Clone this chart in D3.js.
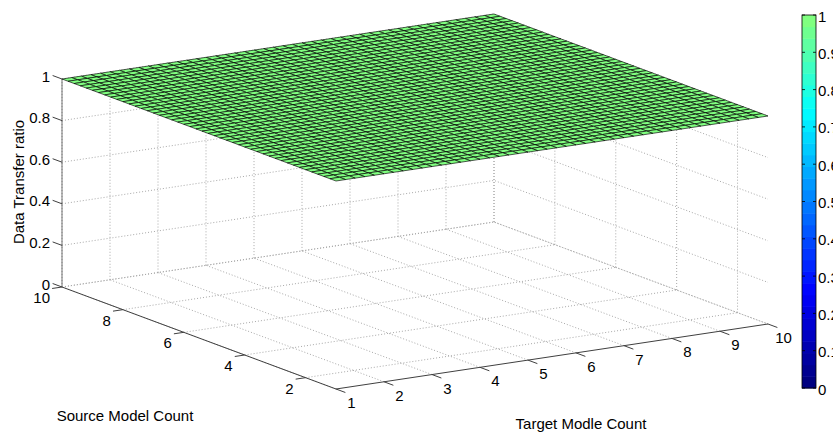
<!DOCTYPE html>
<html>
<head>
<meta charset="utf-8">
<script src="https://cdn.jsdelivr.net/npm/d3@7"></script>
<style>
  body { margin: 0; background: #fff; }
  svg { display: block; font-family: "Liberation Sans", Arial, sans-serif; }
</style>
</head>
<body>
<svg id="chart" width="833" height="432"></svg>
<script>
// ---- data ----
const targetCounts = [1, 2, 3, 4, 5, 6, 7, 8, 9, 10];
const sourceCounts = [1, 2, 3, 4, 5, 6, 7, 8, 9, 10];
// transferRatio[sourceIndex][targetIndex]
const transferRatio = [
  [1, 1, 1, 1, 1, 1, 1, 1, 1, 1],
  [1, 1, 1, 1, 1, 1, 1, 1, 1, 1],
  [1, 1, 1, 1, 1, 1, 1, 1, 1, 1],
  [1, 1, 1, 1, 1, 1, 1, 1, 1, 1],
  [1, 1, 1, 1, 1, 1, 1, 1, 1, 1],
  [1, 1, 1, 1, 1, 1, 1, 1, 1, 1],
  [1, 1, 1, 1, 1, 1, 1, 1, 1, 1],
  [1, 1, 1, 1, 1, 1, 1, 1, 1, 1],
  [1, 1, 1, 1, 1, 1, 1, 1, 1, 1],
  [1, 1, 1, 1, 1, 1, 1, 1, 1, 1]
];
const targetTicks = [1, 2, 3, 4, 5, 6, 7, 8, 9, 10];
const sourceTicks = [2, 4, 6, 8, 10];
const ratioTicks = [0, 0.2, 0.4, 0.6, 0.8, 1];
const ratioTickLabels = ["0", "0.2", "0.4", "0.6", "0.8", "1"];
const colorbarTicks = [0, 0.1, 0.2, 0.3, 0.4, 0.5, 0.6, 0.7, 0.8, 0.9, 1];
const colorbarTickLabels = ["0", "0.1", "0.2", "0.3", "0.4", "0.5", "0.6", "0.7", "0.8", "0.9", "1"];

// ---- layout ----
const svg = d3.select("#chart");
const FONT = 15;
const meshDivisions = 5;          // mesh lines drawn per data cell
const colorBands = 32;

// orthographic view: screen point of (target=1, source=1, ratio=0) and axis vectors
const ORIGIN = [336, 389];
const EX = [432, -65];   // full target range
const EY = [-274, -102]; // full source range
const EZ = [0, -208];    // full ratio range

const xs = d3.scaleLinear().domain(d3.extent(targetCounts)).range([0, 1]);
const ys = d3.scaleLinear().domain(d3.extent(sourceCounts)).range([0, 1]);
const zs = d3.scaleLinear().domain([0, 1]).range([0, 1]);

function proj(t, s, r) {
  const a = xs(t), b = ys(s), c = zs(r);
  return [ORIGIN[0] + a * EX[0] + b * EY[0] + c * EZ[0],
          ORIGIN[1] + a * EX[1] + b * EY[1] + c * EZ[1]];
}

// first half of the jet colormap
const cmap = d3.scaleLinear()
  .domain([0, 0.25, 0.75, 1])
  .range(["#000080", "#0000ff", "#00ffff", "#80ff80"])
  .clamp(true);

const line = d3.line();
const tMin = d3.min(targetCounts), tMax = d3.max(targetCounts);
const sMin = d3.min(sourceCounts), sMax = d3.max(sourceCounts);

// ---- grid (back walls and floor) ----
const grid = svg.append("g")
  .attr("fill", "none")
  .attr("stroke", "#a8a8a8")
  .attr("stroke-width", 1)
  .attr("stroke-dasharray", "1,2");

const gridSegs = [];
targetTicks.forEach(t => {
  gridSegs.push([proj(t, sMin, 0), proj(t, sMax, 0)]);   // floor
  gridSegs.push([proj(t, sMax, 0), proj(t, sMax, 1)]);   // wall source=max
});
sourceTicks.forEach(s => {
  gridSegs.push([proj(tMin, s, 0), proj(tMax, s, 0)]);   // floor
  gridSegs.push([proj(tMax, s, 0), proj(tMax, s, 1)]);   // wall target=max
});
ratioTicks.forEach(r => {
  gridSegs.push([proj(tMin, sMax, r), proj(tMax, sMax, r), proj(tMax, sMin, r)]);
});
grid.selectAll("path").data(gridSegs).join("path").attr("d", line);

// ---- axes ----
const axes = svg.append("g").attr("stroke", "#404040").attr("stroke-width", 1).attr("fill", "none");
axes.append("path").attr("d", line([proj(tMin, sMin, 0), proj(tMax, sMin, 0)]));
axes.append("path").attr("d", line([proj(tMin, sMin, 0), proj(tMin, sMax, 0)]));
axes.append("path").attr("stroke", "#707070").attr("d", line([proj(tMin, sMax, 0), proj(tMin, sMax, 1)]));

function unit(v) { const l = Math.hypot(v[0], v[1]); return [v[0] / l, v[1] / l]; }
const TICK = 10;
const dTarget = unit([-EY[0], -EY[1]]);
const dSource = unit([-EX[0], -EX[1]]);
const dRatio = unit(EY);

const labels = svg.append("g").attr("fill", "#000").attr("font-size", FONT);

targetTicks.forEach(t => {
  const p = proj(t, sMin, 0);
  axes.append("path").attr("d", line([p, [p[0] + dTarget[0] * TICK, p[1] + dTarget[1] * TICK]]));
  labels.append("text").attr("x", p[0] + 15.5).attr("y", p[1] + 13.5)
    .attr("text-anchor", "middle").attr("dominant-baseline", "central").text(t);
});
sourceTicks.forEach(s => {
  const p = proj(tMin, s, 0);
  axes.append("path").attr("d", line([p, [p[0] + dSource[0] * TICK, p[1] + dSource[1] * TICK]]));
  labels.append("text").attr("x", p[0] - 12).attr("y", p[1] + 10.5)
    .attr("text-anchor", "end").attr("dominant-baseline", "central").text(s);
});
ratioTicks.forEach((r, i) => {
  const p = proj(tMin, sMax, r);
  axes.append("path").attr("d", line([p, [p[0] + dRatio[0] * TICK, p[1] + dRatio[1] * TICK]]));
  labels.append("text").attr("x", p[0] - 12).attr("y", p[1] - 3)
    .attr("text-anchor", "end").attr("dominant-baseline", "central").text(ratioTickLabels[i]);
});

// axis titles
labels.append("text").attr("x", 125).attr("y", 415)
  .attr("text-anchor", "middle").attr("dominant-baseline", "central").text("Source Model Count");
labels.append("text").attr("x", 581).attr("y", 423)
  .attr("text-anchor", "middle").attr("dominant-baseline", "central").text("Target Modle Count");
labels.append("text").attr("transform", "translate(18,182) rotate(-90)")
  .attr("text-anchor", "middle").attr("dominant-baseline", "central").text("Data Transfer ratio");

// ---- surface ----
const cells = [];
for (let i = 0; i < sourceCounts.length - 1; i++) {
  for (let j = 0; j < targetCounts.length - 1; j++) {
    const t0 = targetCounts[j], t1 = targetCounts[j + 1];
    const s0 = sourceCounts[i], s1 = sourceCounts[i + 1];
    const z00 = transferRatio[i][j], z01 = transferRatio[i][j + 1];
    const z10 = transferRatio[i + 1][j], z11 = transferRatio[i + 1][j + 1];
    const zAt = (u, v) => z00 * (1 - u) * (1 - v) + z01 * u * (1 - v) + z10 * (1 - u) * v + z11 * u * v;
    for (let a = 0; a < meshDivisions; a++) {
      for (let b = 0; b < meshDivisions; b++) {
        const u0 = b / meshDivisions, u1 = (b + 1) / meshDivisions;
        const v0 = a / meshDivisions, v1 = (a + 1) / meshDivisions;
        const tA = t0 + (t1 - t0) * u0, tB = t0 + (t1 - t0) * u1;
        const sA = s0 + (s1 - s0) * v0, sB = s0 + (s1 - s0) * v1;
        const pts = [
          proj(tA, sA, zAt(u0, v0)), proj(tB, sA, zAt(u1, v0)),
          proj(tB, sB, zAt(u1, v1)), proj(tA, sB, zAt(u0, v1))
        ];
        const val = (zAt(u0, v0) + zAt(u1, v0) + zAt(u1, v1) + zAt(u0, v1)) / 4;
        cells.push({ pts, val, depth: tA + sA });
      }
    }
  }
}
// paint back to front
cells.sort((p, q) => q.depth - p.depth);
svg.append("g")
  .selectAll("path").data(cells).join("path")
  .attr("d", d => line(d.pts) + "Z")
  .attr("fill", d => cmap(d.val))
  .attr("stroke", "#000")
  .attr("stroke-opacity", 1)
  .attr("stroke-width", 0.65)
  .attr("stroke-linejoin", "round");

// ---- colorbar ----
const cbX = 802, cbW = 14, cbTop = 15, cbBottom = 388;
const cbScale = d3.scaleLinear().domain([0, 1]).range([cbBottom, cbTop]);
const cb = svg.append("g");
const bands = d3.range(colorBands);
cb.selectAll("rect.band").data(bands).join("rect")
  .attr("class", "band")
  .attr("x", cbX).attr("width", cbW)
  .attr("y", k => cbScale((k + 1) / colorBands))
  .attr("height", (cbBottom - cbTop) / colorBands + 0.5)
  .attr("fill", k => cmap(k / (colorBands - 1)));
cb.append("rect").attr("x", cbX).attr("y", cbTop).attr("width", cbW).attr("height", cbBottom - cbTop)
  .attr("fill", "none").attr("stroke", "#000").attr("stroke-width", 0.8);
colorbarTicks.forEach((v, i) => {
  const y = cbScale(v);
  cb.append("line").attr("x1", cbX + cbW - 3).attr("x2", cbX + cbW).attr("y1", y).attr("y2", y)
    .attr("stroke", "#000").attr("stroke-width", 0.8);
  cb.append("line").attr("x1", cbX).attr("x2", cbX + 3).attr("y1", y).attr("y2", y)
    .attr("stroke", "#000").attr("stroke-width", 0.8);
  cb.append("text").attr("x", cbX + cbW + 2).attr("y", y + 1)
    .attr("font-size", FONT).attr("dominant-baseline", "central").text(colorbarTickLabels[i]);
});
</script>
</body>
</html>
